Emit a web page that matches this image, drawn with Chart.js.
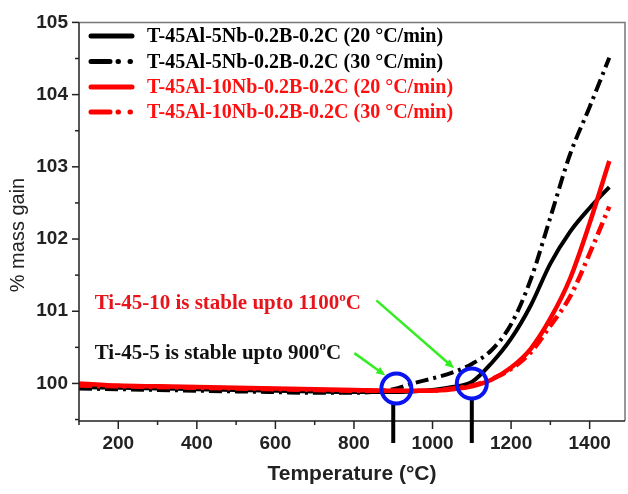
<!DOCTYPE html>
<html>
<head>
<meta charset="utf-8">
<script src="https://cdn.jsdelivr.net/npm/chart.js@4.4.1/dist/chart.umd.min.js"></script>
<style>
  html, body { margin: 0; padding: 0; background: #fff; }
  #wrap { width: 628px; height: 494px; }
</style>
</head>
<body>
<div id="wrap"><canvas id="tgaChart"></canvas></div>
<script>
// temperature points (°C) shared by all four runs
const temps = [100, 200, 300, 400, 500, 600, 700, 800, 900, 950, 1000, 1050, 1100, 1150, 1200, 1250, 1300, 1350, 1400, 1450];

// % mass gain
const gain5Nb20 = [99.95, 99.94, 99.93, 99.92, 99.91, 99.90, 99.89, 99.88, 99.88, 99.89, 99.91, 99.95, 100.02, 100.28, 100.62, 101.08, 101.66, 102.10, 102.43, 102.72];
const gain5Nb30 = [99.93, 99.92, 99.91, 99.90, 99.89, 99.88, 99.87, 99.87, 99.92, 100.00, 100.07, 100.15, 100.27, 100.46, 100.82, 101.44, 102.30, 103.17, 103.83, 104.51];
const gain10Nb20 = [100.00, 99.97, 99.96, 99.95, 99.94, 99.93, 99.92, 99.91, 99.90, 99.90, 99.90, 99.92, 99.96, 100.05, 100.22, 100.48, 100.90, 101.45, 102.22, 103.08];
const gain10Nb30 = [99.97, 99.96, 99.95, 99.94, 99.93, 99.92, 99.91, 99.90, 99.90, 99.90, 99.90, 99.93, 99.97, 100.06, 100.20, 100.43, 100.80, 101.20, 101.80, 102.45];

const seriesLabels = [
    'T-45Al-5Nb-0.2B-0.2C (20 °C/min)',
    'T-45Al-5Nb-0.2B-0.2C (30 °C/min)',
    'T-45Al-10Nb-0.2B-0.2C (20 °C/min)',
    'T-45Al-10Nb-0.2B-0.2C (30 °C/min)'
];
const seriesColors = ['#000000', '#000000', '#ff0000', '#ff0000'];
const seriesDashed = [false, true, false, true];

const xTickLabels = [200, 400, 600, 800, 1000, 1200, 1400];
const yTickLabels = [100, 101, 102, 103, 104, 105];

// marks on the plot: stability limits
const stableTemps = [900, 1100];
const stableGain = [99.93, 100.0];
const noteTexts = ['Ti-45-10 is stable upto 1100', 'Ti-45-5 is stable upto 900'];
const noteColors = ['#e8141c', '#111111'];

const DASH_DOT = [13, 5, 3, 5];

function toPoints(arr) {
    return temps.map((t, i) => ({ x: t, y: arr[i] }));
}

const allSeries = [gain5Nb20, gain5Nb30, gain10Nb20, gain10Nb30];
const datasets = allSeries.map((arr, i) => ({
    label: seriesLabels[i],
    data: toPoints(arr),
    borderColor: seriesColors[i],
    borderWidth: i >= 2 ? 4.5 : 4,
    borderDash: seriesDashed[i] ? DASH_DOT : [],
    pointRadius: 0,
    cubicInterpolationMode: 'monotone',
    fill: false,
    order: i >= 2 ? 0 : 1   // red drawn on top
}));

function drawArrow(ctx, x1, y1, x2, y2) {
    const ang = Math.atan2(y2 - y1, x2 - x1);
    const head = 10;
    ctx.strokeStyle = '#33ee22';
    ctx.fillStyle = '#33ee22';
    ctx.lineWidth = 2.5;
    ctx.beginPath();
    ctx.moveTo(x1, y1);
    ctx.lineTo(x2 - Math.cos(ang) * head * 0.8, y2 - Math.sin(ang) * head * 0.8);
    ctx.stroke();
    ctx.beginPath();
    ctx.moveTo(x2, y2);
    ctx.lineTo(x2 - head * Math.cos(ang - 0.4), y2 - head * Math.sin(ang - 0.4));
    ctx.lineTo(x2 - head * Math.cos(ang + 0.4), y2 - head * Math.sin(ang + 0.4));
    ctx.closePath();
    ctx.fill();
}

function drawDegreeText(ctx, x, y, main, size, color) {
    ctx.fillStyle = color;
    ctx.textAlign = 'left';
    ctx.textBaseline = 'middle';
    ctx.font = 'bold ' + size + 'px "Liberation Serif", "Times New Roman", serif';
    ctx.fillText(main, x, y);
    let w = ctx.measureText(main).width;
    ctx.font = 'bold ' + Math.round(size * 0.6) + 'px "Liberation Serif", serif';
    ctx.fillText('o', x + w, y - 6);
    w += ctx.measureText('o').width;
    ctx.font = 'bold ' + size + 'px "Liberation Serif", "Times New Roman", serif';
    ctx.fillText('C', x + w, y);
}

const decorPlugin = {
    id: 'decor',
    afterDraw(chart) {
        const ctx = chart.ctx;
        const area = chart.chartArea;
        const xs = chart.scales.x;
        const ys = chart.scales.y;
        ctx.save();

        // frame
        ctx.lineWidth = 1.5;
        ctx.strokeStyle = '#777';
        ctx.beginPath();
        ctx.moveTo(area.left, area.top);
        ctx.lineTo(area.right, area.top);
        ctx.lineTo(area.right, area.bottom);
        ctx.stroke();
        ctx.strokeStyle = '#222';
        ctx.beginPath();
        ctx.moveTo(area.left, area.top);
        ctx.lineTo(area.left, area.bottom);
        ctx.lineTo(area.right, area.bottom);
        ctx.stroke();

        // ticks
        ctx.lineWidth = 1.5;
        for (let v = 100; v <= 1490; v += 100) {
            const px = xs.getPixelForValue(v);
            const len = v % 200 === 0 ? 8 : 4;
            ctx.beginPath();
            ctx.moveTo(px, area.bottom);
            ctx.lineTo(px, area.bottom + len);
            ctx.stroke();
        }
        for (let v = 99.5; v <= 105.001; v += 0.5) {
            const py = ys.getPixelForValue(v);
            const len = Math.abs(v - Math.round(v)) < 0.01 ? 7 : 4;
            ctx.beginPath();
            ctx.moveTo(area.left, py);
            ctx.lineTo(area.left - len, py);
            ctx.stroke();
        }

        // axis titles
        ctx.fillStyle = '#222';
        ctx.textAlign = 'center';
        ctx.textBaseline = 'middle';
        ctx.font = 'bold 21px "Liberation Sans", Arial, sans-serif';
        ctx.fillText('Temperature (°C)', (area.left + area.right) / 2, 474);
        ctx.save();
        ctx.translate(18, 235);
        ctx.rotate(-Math.PI / 2);
        ctx.font = '20px "Liberation Sans", Arial, sans-serif';
        ctx.fillText('% mass gain', 0, 0);
        ctx.restore();

        // legend
        const rowY = [36, 61.5, 87, 112];
        ctx.font = 'bold 20px "Liberation Serif", "Times New Roman", serif';
        ctx.textAlign = 'left';
        ctx.textBaseline = 'middle';
        rowY.forEach((y, i) => {
            ctx.strokeStyle = seriesColors[i];
            ctx.fillStyle = seriesColors[i];
            ctx.lineWidth = 5;
            ctx.lineCap = 'round';
            ctx.beginPath();
            if (seriesDashed[i]) {
                ctx.moveTo(91, y); ctx.lineTo(110, y);
                ctx.moveTo(118, y); ctx.lineTo(118.5, y);
                ctx.moveTo(130, y); ctx.lineTo(130.5, y);
            } else {
                ctx.moveTo(91, y); ctx.lineTo(132, y);
            }
            ctx.stroke();
            ctx.fillStyle = i >= 2 ? '#ff1010' : '#000';
            ctx.fillText(seriesLabels[i], 147, y + 1);
        });
        ctx.lineCap = 'butt';

        // vertical bars at the stability limits
        ctx.strokeStyle = '#000';
        ctx.lineWidth = 4;
        stableTemps.forEach((t, i) => {
            const px = xs.getPixelForValue(t);
            ctx.beginPath();
            ctx.moveTo(px, ys.getPixelForValue(stableGain[i]) + 14);
            ctx.lineTo(px, 443);
            ctx.stroke();
        });

        // blue circles
        ctx.strokeStyle = '#0a14f0';
        ctx.lineWidth = 4;
        stableTemps.forEach((t, i) => {
            ctx.beginPath();
            ctx.arc(xs.getPixelForValue(t + (i === 0 ? 8 : 0)), ys.getPixelForValue(stableGain[i]), 15, 0, Math.PI * 2);
            ctx.stroke();
        });

        // green arrows
        drawArrow(ctx, xs.getPixelForValue(801), ys.getPixelForValue(100.42), xs.getPixelForValue(880), ys.getPixelForValue(100.11));
        drawArrow(ctx, xs.getPixelForValue(857), ys.getPixelForValue(101.15), xs.getPixelForValue(1055), ys.getPixelForValue(100.21));

        // notes
        drawDegreeText(ctx, xs.getPixelForValue(140), ys.getPixelForValue(101.1), noteTexts[0], 21, noteColors[0]);
        drawDegreeText(ctx, xs.getPixelForValue(140), ys.getPixelForValue(100.42), noteTexts[1], 21, noteColors[1]);

        ctx.restore();
    }
};

const ctx = document.getElementById('tgaChart').getContext('2d');
new Chart(ctx, {
    type: 'line',
    data: { datasets: datasets },
    options: {
        responsive: true,
        maintainAspectRatio: false,
        animation: false,
        layout: { padding: { top: 16, right: 3, left: 0, bottom: 0 } },
        plugins: {
            legend: { display: false },
            tooltip: { enabled: false }
        },
        scales: {
            x: {
                type: 'linear',
                min: 100,
                max: 1490,
                afterFit: s => { s.height = 73; },
                afterBuildTicks: s => { s.ticks = xTickLabels.map(v => ({ value: v })); },
                grid: { display: false, drawTicks: false },
                border: { display: false },
                ticks: {
                    padding: 11,
                    color: '#222',
                    font: { family: '"Liberation Sans", Arial, sans-serif', size: 19, weight: 'bold' },
                    maxRotation: 0,
                    callback: v => String(v)
                }
            },
            y: {
                min: 99.48,
                max: 105,
                afterFit: s => { s.width = 79; },
                afterBuildTicks: s => { s.ticks = yTickLabels.map(v => ({ value: v })); },
                grid: { display: false, drawTicks: false },
                border: { display: false },
                ticks: {
                    padding: 11,
                    color: '#222',
                    font: { family: '"Liberation Sans", Arial, sans-serif', size: 19, weight: 'bold' },
                    callback: v => String(v)
                }
            }
        }
    },
    plugins: [decorPlugin]
});
</script>
</body>
</html>
